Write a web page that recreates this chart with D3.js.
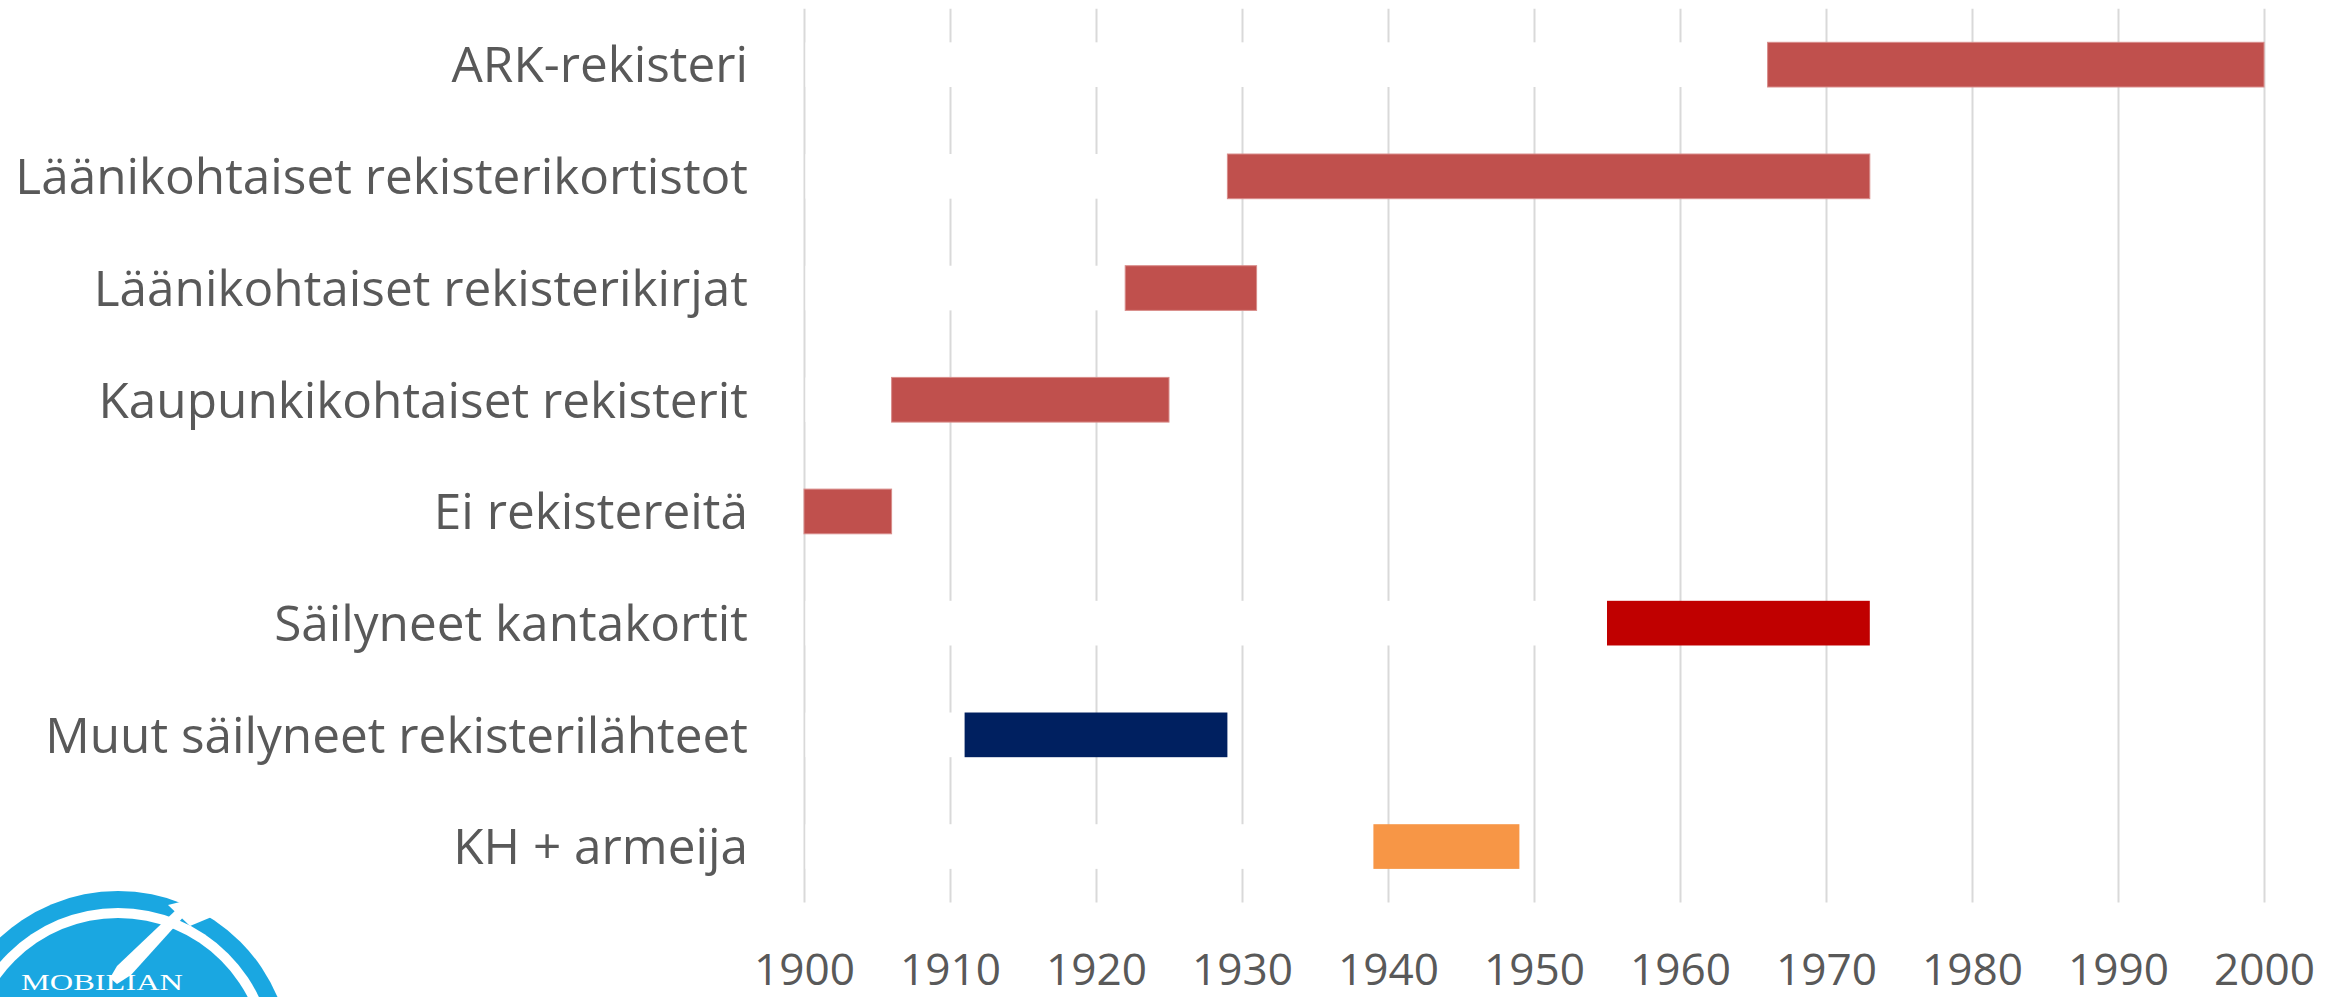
<!DOCTYPE html>
<html>
<head>
<meta charset="utf-8">
<script src="https://cdn.jsdelivr.net/npm/d3@7"></script>
<style>
  html, body { margin: 0; padding: 0; background: #ffffff; }
  svg { display: block; }
</style>
</head>
<body>
<svg id="chart" width="2346" height="997"></svg>
<script>
// ---- data ----
const categories = [
  "ARK-rekisteri",
  "Läänikohtaiset rekisterikortistot",
  "Läänikohtaiset rekisterikirjat",
  "Kaupunkikohtaiset rekisterit",
  "Ei rekistereitä",
  "Säilyneet kantakortit",
  "Muut säilyneet rekisterilähteet",
  "KH + armeija"
];
const startYears = [1966, 1929, 1922, 1906, 1900, 1955, 1911, 1939];
const endYears   = [2000, 1973, 1931, 1925, 1906, 1973, 1929, 1949];
const barColors  = ["#C0504D", "#C0504D", "#C0504D", "#C0504D", "#C0504D", "#C00000", "#002060", "#F79646"];
const tickYears  = [1900, 1910, 1920, 1930, 1940, 1950, 1960, 1970, 1980, 1990, 2000];
const axisMin = 1900, axisMax = 2000;

const rows = categories.map((c, i) => ({ name: c, start: startYears[i], end: endYears[i], color: barColors[i] }));

// ---- layout ----
const svg = d3.select("#chart");
const plotLeft = 804, plotRight = 2264, plotTop = 8.8, plotBottom = 902.4;

const x = d3.scaleLinear().domain([axisMin, axisMax]).range([plotLeft, plotRight]);
const y = d3.scaleBand().domain(categories).range([plotTop, plotBottom]).paddingInner(0.6).paddingOuter(0.3);

const textColor = "#595959";
const fontFamily = "'Open Sans', 'Noto Sans', sans-serif";

// gridlines via axis
const grid = svg.append("g")
  .attr("transform", `translate(0,${plotBottom})`)
  .call(d3.axisBottom(x).tickValues(tickYears).tickSize(-(plotBottom - plotTop)).tickFormat(""));
grid.select(".domain").remove();
grid.selectAll(".tick line").attr("stroke", "#d9d9d9").attr("stroke-width", 2);

// invisible (white) base series hiding gridlines, as in the stacked gantt
svg.append("g").selectAll("rect")
  .data(rows.filter(d => d.start > axisMin))
  .join("rect")
  .attr("x", x(axisMin) + 1.5)
  .attr("y", d => y(d.name))
  .attr("width", d => x(d.start) - x(axisMin) - 1.5)
  .attr("height", y.bandwidth())
  .attr("fill", "#ffffff");

// bars
svg.append("g").selectAll("rect")
  .data(rows)
  .join("rect")
  .attr("x", d => x(d.start))
  .attr("y", d => y(d.name))
  .attr("width", d => x(d.end) - x(d.start))
  .attr("height", y.bandwidth())
  .attr("fill", d => d.color)
  .attr("stroke", d => d.color === "#C0504D" ? "#d88c8a" : "none")
  .attr("stroke-width", 1);

// category labels (fit font size to reference width of longest label)
const probe = svg.append("text").attr("font-family", fontFamily).attr("font-size", 100)
  .text("Läänikohtaiset rekisterikortistot");
const probeW = probe.node().getComputedTextLength();
probe.remove();
const catSize = 100 * 733 / probeW;

const yAxis = svg.append("g")
  .attr("transform", `translate(${plotLeft - 56},0)`)
  .call(d3.axisLeft(y).tickSize(0).tickPadding(0));
yAxis.select(".domain").remove();
yAxis.selectAll(".tick text")
  .attr("font-family", fontFamily)
  .attr("font-size", catSize)
  .attr("fill", textColor)
  .attr("dy", "0.36em");

// x tick labels
const probe2 = svg.append("text").attr("font-family", fontFamily).attr("font-size", 100).text("1900");
const probe2W = probe2.node().getComputedTextLength();
probe2.remove();
const tickSize = 100 * 101 / probe2W;

const xAxis = svg.append("g")
  .attr("transform", `translate(0,${plotBottom})`)
  .call(d3.axisBottom(x).tickValues(tickYears).tickSize(0).tickPadding(0).tickFormat(d3.format("d")));
xAxis.select(".domain").remove();
xAxis.selectAll(".tick text")
  .attr("font-family", fontFamily)
  .attr("font-size", tickSize)
  .attr("fill", textColor)
  .attr("dy", 0)
  .attr("y", 83);

// ---- logo (bottom-left, partially cut off) ----
const logo = svg.append("g");
const lc = { x: 118, y: 1064 };
const blue = "#1AA7E1";
logo.append("circle").attr("cx", lc.x).attr("cy", lc.y).attr("r", 173).attr("fill", blue);
logo.append("circle").attr("cx", lc.x).attr("cy", lc.y).attr("r", 156).attr("fill", "#ffffff");
logo.append("circle").attr("cx", lc.x).attr("cy", lc.y).attr("r", 146).attr("fill", blue);
// gap in the outer ring
logo.append("path")
  .attr("d", "M168,905 L200,897 L214,916 L190,926 Z")
  .attr("fill", "#ffffff");
// white paddle stroke
logo.append("path")
  .attr("d", "M110,978 L117,966 L177,909 L186,905 L187,913 L131,975 L117,984 Z")
  .attr("fill", "#ffffff");
logo.append("text")
  .attr("x", 21).attr("y", 990)
  .attr("font-family", "'Liberation Serif', 'DejaVu Serif', serif")
  .attr("font-size", 24)
  .attr("textLength", 162)
  .attr("lengthAdjust", "spacingAndGlyphs")
  .attr("fill", "#ffffff")
  .text("MOBILIAN");
</script>
</body>
</html>
